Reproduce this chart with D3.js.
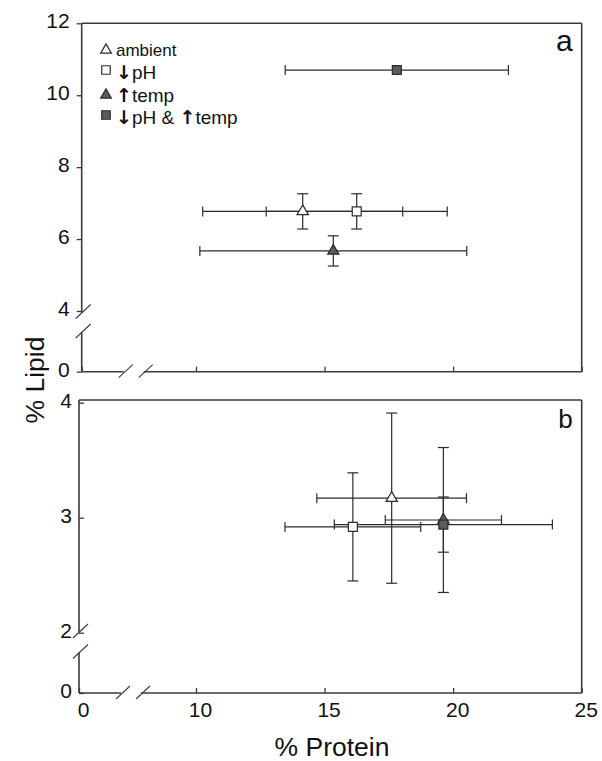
<!DOCTYPE html>
<html>
<head>
<meta charset="utf-8">
<script src="https://cdn.jsdelivr.net/npm/d3@7"></script>
<style>
  body { margin: 0; background: #fff; }
  text { font-family: "Liberation Sans", Arial, Helvetica, sans-serif; fill: #111; }
</style>
</head>
<body>
<div id="chart"></div>
<script>
// Treatments
const groups = ["ambient", "↓pH", "↑temp", "↓pH & ↑temp"];

// Panel a: mean % protein / % lipid with error
const proteinA = [14.15, 16.25, 15.34, 17.81];
const proteinErrA = [3.89, 3.52, 5.19, 4.34];
const lipidA = [6.77, 6.77, 5.67, 10.70];
const lipidErrA = [0.49, 0.49, 0.42, 0];

// Panel b
const proteinB = [17.61, 16.10, 19.62, 19.62];
const proteinErrB = [2.91, 2.64, 2.26, 4.24];
const lipidB = [3.17, 2.92, 2.98, 2.94];
const lipidErrB = [0.74, 0.47, 0.63, 0.24];

// Tick labels
const xTicks = [0, 10, 15, 20, 25];
const yTicksA = [0, 4, 6, 8, 10, 12];
const yTicksB = [0, 2, 3, 4];

const width = 602, height = 761;
const axisColor = "#3a3a3a";

const svg = d3.select("#chart")
  .append("svg")
  .attr("width", width)
  .attr("height", height)
  .style("background", "#fff");

const shapeScale = d3.scaleOrdinal()
  .domain(groups)
  .range([d3.symbolTriangle, d3.symbolSquare, d3.symbolTriangle, d3.symbolSquare]);
const fillScale = d3.scaleOrdinal()
  .domain(groups)
  .range(["#fff", "#fff", "#5b5b5b", "#5b5b5b"]);
const sizeScale = d3.scaleOrdinal()
  .domain(groups)
  .range([55, 80, 55, 80]);

function drawPanel(p) {
  const g = svg.append("g");

  // broken scales: 0 sits below the axis break
  const x = d3.scaleLinear().domain([0, 10, 25]).range([p.left, 196, p.right]);
  const y = d3.scaleLinear().domain(p.yDomain).range(p.yRange);

  const data = groups.map((k, i) => ({
    key: k, px: p.prot[i], pe: p.protErr[i], ly: p.lip[i], le: p.lipErr[i]
  }));

  // frame: top and right
  g.append("line").attr("x1", p.left).attr("x2", p.right)
    .attr("y1", p.top).attr("y2", p.top);
  g.append("line").attr("x1", p.right).attr("x2", p.right)
    .attr("y1", p.top).attr("y2", p.bottom);

  // y axis line with break
  g.append("line").attr("x1", p.left).attr("x2", p.left)
    .attr("y1", p.top).attr("y2", p.yBreak[0]);
  g.append("line").attr("x1", p.left).attr("x2", p.left)
    .attr("y1", p.yBreak[1]).attr("y2", p.bottom);
  // x axis line with break
  g.append("line").attr("x1", p.left).attr("x2", p.left + 42)
    .attr("y1", p.bottom).attr("y2", p.bottom);
  g.append("line").attr("x1", p.left + 62).attr("x2", p.right)
    .attr("y1", p.bottom).attr("y2", p.bottom);
  g.selectAll("line")
    .attr("stroke", axisColor).attr("stroke-width", 1.6);

  // break slashes
  const slash = g.append("g").attr("stroke", axisColor).attr("stroke-width", 1.1);
  p.yBreak.forEach(b => {
    slash.append("line").attr("x1", p.left - 6).attr("x2", p.left + 9)
      .attr("y1", b + 6).attr("y2", b - 8);
  });
  [p.left + 42, p.left + 62].forEach(b => {
    slash.append("line").attr("x1", b - 5).attr("x2", b + 9)
      .attr("y1", p.bottom + 6).attr("y2", p.bottom - 7);
  });

  // y axis ticks
  const yAxis = g.append("g")
    .attr("transform", `translate(${p.left},0)`)
    .call(d3.axisLeft(y).tickValues(p.yTicks).tickSize(p.yTickSize)
      .tickSizeOuter(0).tickPadding(7).tickFormat(d3.format("d")));
  yAxis.select(".domain").remove();
  yAxis.selectAll(".tick line").attr("stroke", axisColor).attr("stroke-width", 1.3);
  yAxis.selectAll(".tick text")
    .attr("dy", "0.22em")
    .style("font-size", "21px")
    .style("font-family", "'Liberation Sans', Arial, sans-serif")
    .attr("fill", "#111");

  // x axis ticks (inward)
  const xAxis = g.append("g")
    .attr("transform", `translate(0,${p.bottom})`)
    .call(d3.axisBottom(x).tickValues(xTicks).tickSize(-5)
      .tickSizeOuter(0).tickPadding(9)
      .tickFormat(p.xLabels ? d3.format("d") : ""));
  xAxis.select(".domain").remove();
  xAxis.selectAll(".tick line").attr("stroke", axisColor).attr("stroke-width", 1.3);
  xAxis.selectAll(".tick text")
    .attr("dx", "4")
    .style("font-size", "21px")
    .style("font-family", "'Liberation Sans', Arial, sans-serif")
    .attr("fill", "#111");

  // error bars
  const bars = g.append("g").attr("stroke", "#2b2b2b").attr("stroke-width", 1.2);
  data.forEach(d => {
    const cx = x(d.px), cy = y(d.ly);
    if (d.pe > 0) {
      const x0 = x(d.px - d.pe), x1 = x(d.px + d.pe);
      bars.append("line").attr("x1", x0).attr("x2", x1).attr("y1", cy).attr("y2", cy);
      [x0, x1].forEach(xx => bars.append("line")
        .attr("x1", xx).attr("x2", xx).attr("y1", cy - 5).attr("y2", cy + 5));
    }
    if (d.le > 0) {
      const y0 = y(d.ly - d.le), y1 = y(d.ly + d.le);
      bars.append("line").attr("x1", cx).attr("x2", cx).attr("y1", y0).attr("y2", y1);
      [y0, y1].forEach(yy => bars.append("line")
        .attr("x1", cx - 5.5).attr("x2", cx + 5.5).attr("y1", yy).attr("y2", yy));
    }
  });

  // markers
  g.append("g").selectAll("path")
    .data(data)
    .enter().append("path")
    .attr("transform", d => `translate(${x(d.px)},${y(d.ly)})`)
    .attr("d", d => d3.symbol().type(shapeScale(d.key)).size(sizeScale(d.key))())
    .attr("fill", d => fillScale(d.key))
    .attr("stroke", "#2b2b2b")
    .attr("stroke-width", 1.2);

  // panel letter
  g.append("text")
    .attr("x", p.right - 9)
    .attr("y", p.letterY)
    .attr("text-anchor", "end")
    .style("font-size", p.letterSize)
    .text(p.letter);
}

drawPanel({
  left: 81.7, right: 581.7, top: 23.3, bottom: 371.7,
  yDomain: [0, 4, 12], yRange: [371.7, 311, 23.3], yTicks: yTicksA,
  yTickSize: 5, yBreak: [312.5, 332],
  prot: proteinA, protErr: proteinErrA, lip: lipidA, lipErr: lipidErrA,
  xLabels: false, letter: "a", letterY: 51, letterSize: "30px"
});

drawPanel({
  left: 79, right: 581.7, top: 400, bottom: 693,
  yDomain: [0, 2, 4], yRange: [693, 632.7, 402.7], yTicks: yTicksB,
  yTickSize: -5, yBreak: [632, 652.5],
  prot: proteinB, protErr: proteinErrB, lip: lipidB, lipErr: lipidErrB,
  xLabels: true, letter: "b", letterY: 428, letterSize: "26px"
});

// Legend (panel a)
const legend = svg.append("g");
const legendY = [50, 72, 95, 117];
groups.forEach((k, i) => {
  legend.append("path")
    .attr("transform", `translate(106,${legendY[i] - (shapeScale(k) === d3.symbolTriangle ? 0 : 2)})`)
    .attr("d", d3.symbol().type(shapeScale(k)).size(sizeScale(k) * 0.9)())
    .attr("fill", fillScale(k))
    .attr("stroke", "#2b2b2b")
    .attr("stroke-width", 1.2);
  const t = legend.append("text")
    .attr("x", 116)
    .attr("y", legendY[i])
    .attr("dy", "0.35em")
    .style("font-size", i === 0 ? "17px" : "19px");
  // arrows drawn with a heavier glyph, as in the original
  k.split(/([↓↑])/).filter(s => s.length).forEach(s => {
    const span = t.append("tspan").text(s);
    if (s === "↓" || s === "↑") {
      span.style("font-family", "'DejaVu Sans', sans-serif")
        .style("font-weight", "bold")
        .style("font-size", "19px");
    }
  });
});

// Axis titles
svg.append("text")
  .attr("x", 332)
  .attr("y", 756)
  .attr("text-anchor", "middle")
  .style("font-size", "26.5px")
  .text("% Protein");

svg.append("text")
  .attr("transform", "translate(44,380) rotate(-90)")
  .attr("text-anchor", "middle")
  .style("font-size", "26.5px")
  .text("% Lipid");
</script>
</body>
</html>
